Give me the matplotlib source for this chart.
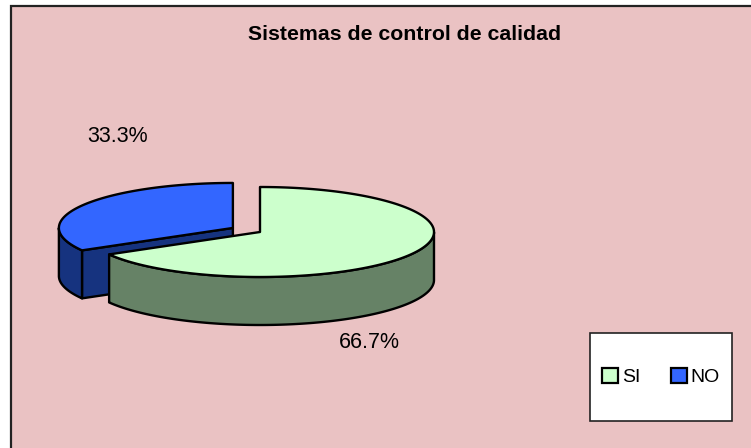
import numpy as np
import matplotlib.pyplot as plt
from matplotlib.patches import Polygon, Rectangle, Patch
from matplotlib import font_manager

labels = ["SI", "NO"]
values = [66.7, 33.3]
pct_labels = ["66.7%", "33.3%"]
title = "Sistemas de control de calidad"

top_colors = ["#ccffcc", "#3366ff"]
side_colors = ["#668266", "#16337f"]
explode = [0.0, 0.18]
pink = "#eac2c3"

names = {f.name for f in font_manager.fontManager.ttflist}
font = "Liberation Sans Narrow" if "Liberation Sans Narrow" in names else "Liberation Sans"
plt.rcParams['font.family'] = [font, "DejaVu Sans"]

W, H = 751, 448
fig = plt.figure(figsize=(W / 100, H / 100), dpi=100)
fig.patch.set_facecolor("white")
ax = fig.add_axes([0, 0, 1, 1])
ax.set_xlim(0, W)
ax.set_ylim(H, 0)
ax.axis('off')

# chart area with border
ax.add_patch(Rectangle((11, 6), W, H, facecolor=pink, edgecolor="#222222", lw=1.6, zorder=0))

# pie geometry (pixels)
cx, cy, rx, ry, depth = 260, 232, 174, 45, 48
lw = 1.7

fracs = np.array(values) / sum(values)
edges = 90 - 360 * np.concatenate([[0], np.cumsum(fracs)])


def rim(t, ox, oy, dz=0.0):
    t = np.radians(t)
    return np.column_stack([ox + rx * np.cos(t), oy - ry * np.sin(t) + dz])


for i in reversed(range(len(values))):
    t1, t2 = edges[i], edges[i + 1]
    mid = np.radians((t1 + t2) / 2)
    ox = cx + explode[i] * rx * np.cos(mid)
    oy = cy - explode[i] * ry * np.sin(mid)
    apex = np.array([[ox, oy]])
    apex_b = np.array([[ox, oy + depth]])

    # radial cut faces facing the viewer
    for a, normal in ((t1, t1 + 90), (t2, t2 - 90)):
        if np.sin(np.radians(normal)) < -1e-6:
            poly = np.vstack([apex, rim(a, ox, oy), rim(a, ox, oy, depth), apex_b])
            ax.add_patch(Polygon(poly, closed=True, facecolor=side_colors[i],
                                 edgecolor="black", lw=lw, joinstyle="round", zorder=2))

    # outer wall (front half only)
    ts = np.linspace(t2, t1, 500)
    ts = ts[np.sin(np.radians(ts)) <= 0]
    if len(ts) > 1:
        poly = np.vstack([rim(ts, ox, oy), rim(ts[::-1], ox, oy, depth)])
        ax.add_patch(Polygon(poly, closed=True, facecolor=side_colors[i],
                             edgecolor="black", lw=lw, joinstyle="round", zorder=2))

    # top face
    ts = np.linspace(t1, t2, 500)
    poly = np.vstack([apex, rim(ts, ox, oy)])
    ax.add_patch(Polygon(poly, closed=True, facecolor=top_colors[i],
                         edgecolor="black", lw=lw, joinstyle="round", zorder=2))

# percentage labels
label_xy = [(369, 343), (118, 137)]
for txt, (x, y) in zip(pct_labels, label_xy):
    ax.text(x, y, txt, fontsize=15.5, ha="center", va="center", color="black", zorder=3)

ax.text(405, 34, title, fontsize=15.3, fontweight="bold", ha="center", va="center", zorder=3)

# legend
ax.add_patch(Rectangle((590, 333), 142, 88, facecolor="white", edgecolor="#222222", lw=1.2, zorder=3))
handles = [Patch(facecolor=c, edgecolor="black", lw=1.6) for c in top_colors]
leg = ax.legend(handles, labels, ncol=2, frameon=False, fontsize=14,
                handlelength=0.8, handleheight=0.8, handletextpad=0.2, columnspacing=1.6,
                loc="center", bbox_to_anchor=(661 / W, 1 - 377 / H),
                bbox_transform=fig.transFigure)
leg.set_zorder(4)

fig.savefig("out.png", dpi=100, facecolor=fig.get_facecolor())
